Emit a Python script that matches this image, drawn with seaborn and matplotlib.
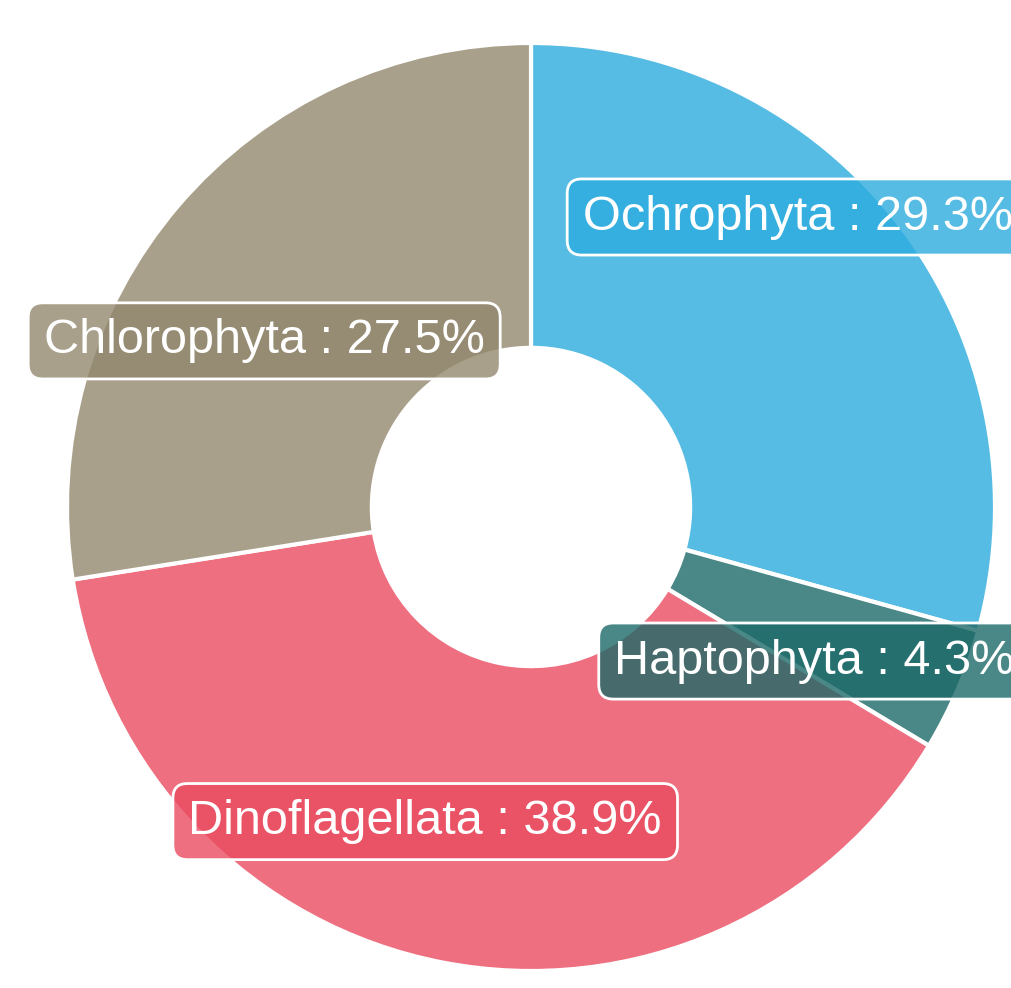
import numpy as np
import matplotlib
matplotlib.use("Agg")
import matplotlib.pyplot as plt
from matplotlib.colors import to_rgba
import seaborn as sns

# data
groups = ["Ochrophyta", "Haptophyta", "Dinoflagellata", "Chlorophyta"]
shares = [29.3, 4.3, 38.9, 27.5]
base_colors = ["#2CACDE", "#1D6969", "#EA4B60", "#92886E"]

# label centres (in pie-radius units), layout only
label_xy = [(0.575, 0.625), (0.611, -0.332), (-0.228, -0.678), (-0.575, 0.358)]

sns.set_theme(style="white")
plt.rcParams["font.family"] = ["Liberation Sans", "DejaVu Sans"]

fig = plt.figure(figsize=(10.12, 9.88), dpi=100)
ax = fig.add_axes([0, 0, 1, 1])

fill = [to_rgba(c, 0.8) for c in base_colors]
wedges, _ = ax.pie(
    shares,
    colors=fill,
    startangle=90,
    counterclock=False,
    radius=1.0,
    wedgeprops=dict(width=0.657, edgecolor="white", linewidth=3),
)

for name, val, col, (x, y) in zip(groups, shares, fill, label_xy):
    ax.text(
        x, y, f"{name} : {val}%",
        ha="center", va="center",
        fontsize=35, color="white",
        bbox=dict(boxstyle="round,pad=0.32,rounding_size=0.3",
                  facecolor=col, edgecolor="white", linewidth=2),
    )

# centre at pixel (531, 507), radius 464 px
ax.set_xlim(-531 / 464, (1012 - 531) / 464)
ax.set_ylim(-(988 - 507) / 464, 507 / 464)
ax.set_aspect("equal")
ax.axis("off")

fig.savefig("out.png", dpi=100)
